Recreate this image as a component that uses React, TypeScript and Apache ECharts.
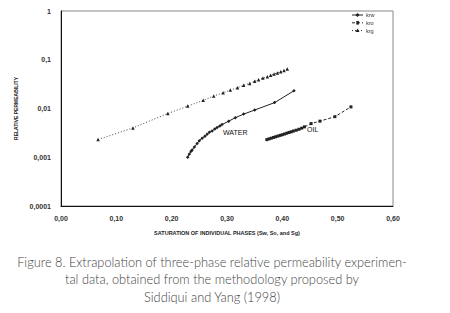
import React, { useEffect, useRef } from "react";
import * as echarts from "echarts";

const krw: [number, number][] = [
  [0.229, 0.001], [0.232, 0.00117], [0.235, 0.00132], [0.237, 0.00141], [0.241, 0.00162],
  [0.246, 0.00191], [0.25, 0.00219], [0.255, 0.00245], [0.26, 0.00269], [0.264, 0.00295],
  [0.268, 0.00324], [0.273, 0.00347], [0.278, 0.0038], [0.282, 0.00407], [0.287, 0.00437],
  [0.291, 0.00468], [0.303, 0.0055], [0.315, 0.00646], [0.33, 0.00767], [0.35, 0.0093],
  [0.386, 0.0132], [0.421, 0.0231],
];
const kro: [number, number][] = [
  [0.372, 0.0023], [0.376, 0.00238], [0.38, 0.00246], [0.384, 0.00255], [0.388, 0.00263],
  [0.392, 0.00272], [0.396, 0.00281], [0.4, 0.0029], [0.404, 0.003], [0.408, 0.00311],
  [0.412, 0.00322], [0.416, 0.00333], [0.42, 0.00345], [0.425, 0.00358], [0.43, 0.00375],
  [0.435, 0.00395], [0.44, 0.0042], [0.452, 0.0049], [0.468, 0.0055], [0.495, 0.0068],
  [0.524, 0.0108],
];
const krg: [number, number][] = [
  [0.067, 0.0023], [0.13, 0.004], [0.193, 0.0079], [0.229, 0.0112], [0.257, 0.0147],
  [0.276, 0.018], [0.293, 0.021], [0.306, 0.024], [0.319, 0.0266], [0.33, 0.03],
  [0.341, 0.0327], [0.35, 0.0363], [0.357, 0.0389], [0.365, 0.042], [0.373, 0.0447],
  [0.379, 0.0479], [0.385, 0.0513], [0.391, 0.0537], [0.397, 0.0569], [0.403, 0.0603],
  [0.409, 0.0646],
];
const seriesNames = ["krw", "kro", "krg"];
const captionLines = [
  "Figure 8. Extrapolation of three-phase relative permeability experimen-",
  "tal data, obtained from the methodology proposed by",
  "Siddiqui and Yang (1998)",
];
const xAxisName = "SATURATION OF INDIVIDUAL PHASES (Sw, So, and Sg)";
const yAxisName = "RELATIVE PERMEABILITY";

export default function App() {
  const ref = useRef<HTMLDivElement>(null);
  useEffect(() => {
    const chart = echarts.init(ref.current!, null, { renderer: "svg" });
    const ink = "#222";
    const tickFont = { fontFamily: "Liberation Sans", fontSize: 7, fontWeight: "bold" as const, color: "#333" };
    const legendDash = [[], [3, 2], [1, 2]];
    const legendItems: any[] = [];
    seriesNames.forEach((n, i) => {
      const y = 15 + i * 7.8;
      legendItems.push({
        type: "line", shape: { x1: 352, y1: y, x2: 363, y2: y },
        style: { stroke: ink, lineWidth: 1, lineDash: legendDash[i].length ? legendDash[i] : null },
      });
      if (i === 0) {
        legendItems.push({ type: "polygon", shape: { points: [[357.5, y - 2], [359.5, y], [357.5, y + 2], [355.5, y]] }, style: { fill: ink } });
      } else if (i === 1) {
        legendItems.push({ type: "rect", shape: { x: 356.3, y: y - 1.8, width: 2.6, height: 3.6 }, style: { fill: ink } });
      } else {
        legendItems.push({ type: "polygon", shape: { points: [[357.5, y - 2], [359.5, y + 1.5], [355.5, y + 1.5]] }, style: { fill: ink } });
      }
      legendItems.push({
        type: "text", x: 366, y, style: { text: n, fontFamily: "Liberation Sans", fontSize: 5.5, fill: "#333", textVerticalAlign: "middle" },
      });
    });
    chart.setOption({
      animation: false,
      backgroundColor: "#fff",
      grid: { left: 61, top: 11, right: 57, bottom: 107, show: true, borderColor: "#888", borderWidth: 1 },
      xAxis: {
        type: "value", min: 0, max: 0.6, interval: 0.1,
        axisLine: { show: true, lineStyle: { color: "#111", width: 1 } },
        axisTick: { show: false }, splitLine: { show: false },
        axisLabel: { ...tickFont, margin: 9, formatter: (v: number) => v.toFixed(2).replace(".", ",") },
        name: xAxisName, nameLocation: "middle", nameGap: 24,
        nameTextStyle: { fontFamily: "Liberation Sans", fontSize: 5.5, fontWeight: "bold", color: "#222" },
      },
      yAxis: {
        type: "log", logBase: 10, min: 0.0001, max: 1,
        axisLine: { show: true, lineStyle: { color: "#111", width: 1 } },
        axisTick: { show: false }, splitLine: { show: false }, minorTick: { show: false },
        axisLabel: { ...tickFont, margin: 10, formatter: (v: number) => String(v).replace(".", ",") },
        name: yAxisName, nameLocation: "middle", nameGap: 33, nameRotate: 90,
        nameTextStyle: { fontFamily: "Liberation Sans", fontSize: 5, fontWeight: "bold", color: "#222" },
      },
      series: [
        {
          name: seriesNames[0], type: "line", data: krw, symbol: "diamond", symbolSize: 3.5,
          lineStyle: { color: ink, width: 1 }, itemStyle: { color: ink },
        },
        {
          name: seriesNames[1], type: "line", data: kro, symbol: "rect", symbolSize: 3,
          lineStyle: { color: ink, width: 1, type: [3, 2] }, itemStyle: { color: ink },
        },
        {
          name: seriesNames[2], type: "line", data: krg, symbol: "triangle", symbolSize: 3.5,
          lineStyle: { color: "#444", width: 1, type: [1, 2] }, itemStyle: { color: ink },
        },
      ],
      graphic: [
        ...legendItems,
        { type: "text", left: 223, top: 129, style: { text: "WATER", fontFamily: "Liberation Sans", fontSize: 7, fill: "#111" } },
        { type: "text", left: 307, top: 126, style: { text: "OIL", fontFamily: "Liberation Sans", fontSize: 7, fill: "#111" } },
        ...captionLines.map((t, i) => ({
          type: "text", x: 212, y: 255 + i * 17.5,
          style: { text: t, fontFamily: "Lato", fontWeight: 300, fontSize: 12.8, fill: "#444", textAlign: "center" },
        })),
      ],
    });
    return () => chart.dispose();
  }, []);
  return <div ref={ref} style={{ position: "fixed", left: 0, top: 0, width: 450, height: 313 }} />;
}
